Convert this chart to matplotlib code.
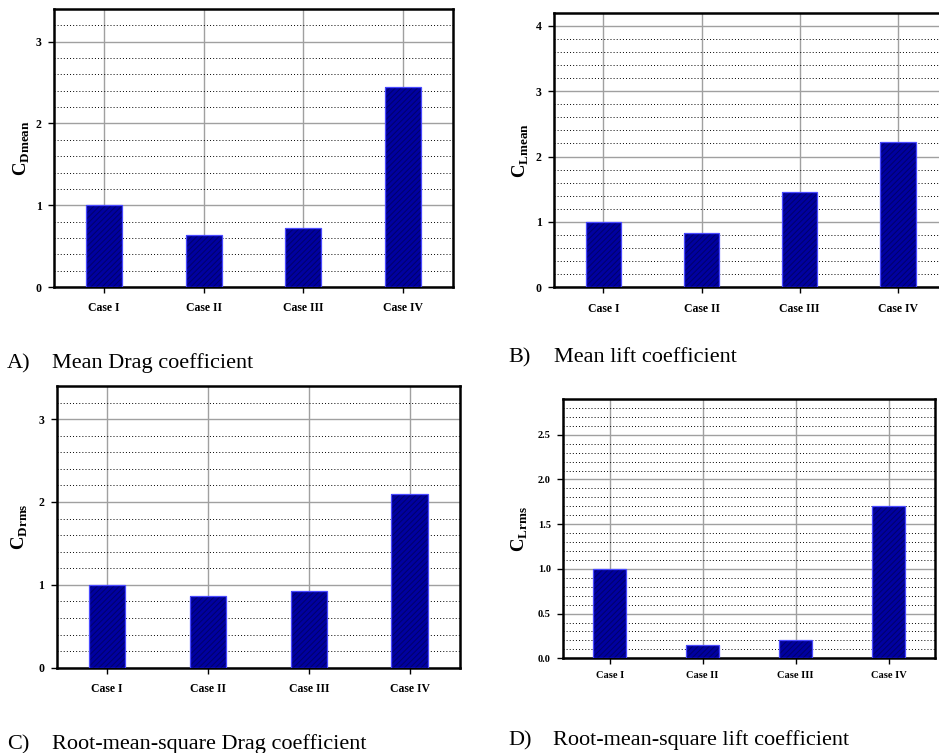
import matplotlib
matplotlib.use("Agg")
import matplotlib.pyplot as plt
import numpy as np
from matplotlib.ticker import MultipleLocator, FormatStrFormatter

plt.rcParams['hatch.linewidth'] = 0.7
plt.rcParams['mathtext.fontset'] = 'custom'
plt.rcParams['mathtext.bf'] = 'Liberation Serif:bold'
plt.rcParams['mathtext.rm'] = 'Liberation Serif'

categories = ['Case I', 'Case II', 'Case III', 'Case IV']
cd_mean = [1.0, 0.64, 0.72, 2.44]
cl_mean = [1.0, 0.83, 1.45, 2.23]
cd_rms = [1.0, 0.86, 0.93, 2.10]
cl_rms = [1.0, 0.15, 0.20, 1.70]

W, H = 939, 753
fig = plt.figure(figsize=(W / 100, H / 100), dpi=100)


def px_axes(l, r, t, b):
    return fig.add_axes([l / W, 1 - b / H, (r - l) / W, (b - t) / H])


panels = [
    dict(box=(54, 453, 9, 287), data=cd_mean, ymax=3.4, major=1, minor=0.2,
         fmt='%d', label=r'$\mathbf{C}_{\mathbf{Dmean}}$', lx=22, fs=8.5, xpad=7),
    dict(box=(554.3, 947, 12.7, 287.3), data=cl_mean, ymax=4.2, major=1, minor=0.2,
         fmt='%d', label=r'$\mathbf{C}_{\mathbf{Lmean}}$', lx=521, fs=8.5, xpad=7),
    dict(box=(56.7, 460, 386, 667.7), data=cd_rms, ymax=3.4, major=1, minor=0.2,
         fmt='%d', label=r'$\mathbf{C}_{\mathbf{Drms}}$', lx=20, fs=8.5, xpad=7),
    dict(box=(563.3, 935, 399, 658.3), data=cl_rms, ymax=2.9, major=0.5, minor=0.1,
         fmt='%.1f', label=r'$\mathbf{C}_{\mathbf{Lrms}}$', lx=520, fs=7.5, xpad=5),
]

for p in panels:
    l, r, t, b = p['box']
    ax = px_axes(l, r, t, b)
    x = np.arange(len(categories))
    ax.bar(x, p['data'], width=0.36, color='#0000a0', edgecolor='#00006a',
           hatch='//////', linewidth=0, zorder=3)
    ax.bar(x, p['data'], width=0.36, fill=False, edgecolor='#4a4aff',
           linewidth=0.9, zorder=4)
    ax.set_xlim(-0.5, len(categories) - 0.5)
    ax.set_ylim(0, p['ymax'])
    ax.set_xticks(x)
    ax.set_xticklabels(categories)
    ax.yaxis.set_major_locator(MultipleLocator(p['major']))
    ax.yaxis.set_minor_locator(MultipleLocator(p['minor']))
    ax.yaxis.set_major_formatter(FormatStrFormatter(p['fmt']))
    ax.set_axisbelow(True)
    ax.grid(True, which='major', axis='both', color='#a0a0a0', linewidth=1.0,
            linestyle='-')
    ax.grid(True, which='minor', axis='y', color='black', linewidth=0.7,
            linestyle=(0, (1, 2.2)))
    ax.tick_params(axis='both', which='major', direction='out', length=4,
                   width=1.0, color='black')
    ax.tick_params(axis='y', which='minor', length=0)
    ax.tick_params(axis='y', pad=5)
    ax.tick_params(axis='x', pad=p['xpad'])
    for lab in ax.get_xticklabels() + ax.get_yticklabels():
        lab.set_fontfamily('Liberation Serif')
        lab.set_fontweight('bold')
        lab.set_fontsize(p['fs'])
    for s in ax.spines.values():
        s.set_linewidth(1.8)
        s.set_color('black')
    ax.set_ylabel(p['label'], fontsize=13.5, va='center')
    ax.yaxis.set_label_coords((p['lx'] - l) / (r - l), 0.5)

captions = [
    (7, 52, 368, 'A)', 'Mean Drag coefficient'),
    (508, 554, 362, 'B)', 'Mean lift coefficient'),
    (7, 52, 749, 'C)', 'Root-mean-square Drag coefficient'),
    (508, 553, 745, 'D)', 'Root-mean-square lift coefficient'),
]
for xl, xt, yb, letter, text in captions:
    fig.text(xl / W, 1 - yb / H, letter, family='Liberation Serif', fontsize=16,
             ha='left', va='baseline')
    fig.text(xt / W, 1 - yb / H, text, family='Liberation Serif', fontsize=16,
             ha='left', va='baseline')

fig.savefig('out.png', dpi=100)
